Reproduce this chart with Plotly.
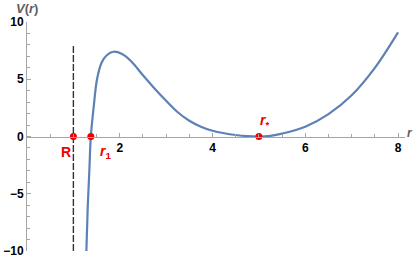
import plotly.graph_objects as go

# curve samples
r_vals = [1.28, 1.31, 1.345, 1.376, 1.44, 1.51, 1.61, 1.72, 1.86, 2.05, 2.25, 2.5, 2.75,
          3.0, 3.25, 3.5, 3.75, 4.0, 4.25, 4.5, 4.75, 5.0, 5.25, 5.5, 6.0, 6.5, 7.0, 7.5, 8.0]
v_vals = [-10.0, -6.1, -2.9, 0.0, 2.66, 5.0, 6.46, 7.1, 7.4, 7.2, 6.55, 5.35, 4.2,
          3.12, 2.12, 1.38, 0.86, 0.5, 0.28, 0.13, 0.035, 0.0, 0.06, 0.25, 0.85, 1.95, 3.6, 6.0, 9.1]

# marked points
pt_names = ["R", "r1", "r*"]
pt_r = [1.0, 1.376, 5.0]
pt_v = [0.0, 0.0, 0.0]

# dashed wall at R
wall_r = [1.0, 1.0]
wall_v = [-10.0, 8.0]

x_ticks = [2, 4, 6, 8]
y_ticks = [-10, -5, 0, 5, 10]
y_tick_text = ["\u221210", "\u22125", "0", "5", "10"]

curve_color = "rgb(94,129,181)"
axis_color = "#a6a6a6"
red = "#ee0000"

fig = go.Figure()
fig.add_trace(go.Scatter(x=wall_r, y=wall_v, mode="lines",
                         line=dict(color="#333333", width=1.4, dash="7px,2px"),
                         hoverinfo="skip"))
fig.add_trace(go.Scatter(x=r_vals, y=v_vals, mode="lines",
                         line=dict(color=curve_color, width=2.2, shape="spline", smoothing=1.0),
                         hoverinfo="skip"))
fig.add_trace(go.Scatter(x=pt_r, y=pt_v, mode="markers",
                         marker=dict(color=red, size=7, line=dict(width=0)), cliponaxis=False,
                         hoverinfo="skip"))

tick_font = dict(family="Liberation Sans", size=12, color="black", weight="bold")

fig.update_layout(
    width=415, height=261,
    margin=dict(l=27, r=10, t=22, b=10),
    paper_bgcolor="white", plot_bgcolor="white",
    showlegend=False,
    xaxis=dict(range=[0, 8.15], anchor="free", position=0.5, automargin=False,
               showline=True, linecolor=axis_color, linewidth=1,
               showgrid=False, zeroline=False,
               tickvals=x_ticks, ticks="inside", ticklen=4, tickcolor=axis_color,
               tickfont=tick_font,
               minor=dict(dtick=0.5, tick0=0, ticks="inside", ticklen=2.5, tickcolor=axis_color)),
    yaxis=dict(range=[-10, 10], automargin=False,
               showline=True, linecolor=axis_color, linewidth=1,
               showgrid=False, zeroline=False,
               tickvals=y_ticks, ticktext=y_tick_text,
               ticks="inside", ticklen=4, tickcolor=axis_color,
               tickfont=tick_font,
               minor=dict(dtick=1, tick0=0, ticks="inside", ticklen=2.5, tickcolor=axis_color)),
)

lab_font = dict(family="Liberation Sans", size=14, color=red, weight="bold")
fig.add_annotation(x=0.85, y=-1.35, text="R", showarrow=False, font=lab_font,
                   xanchor="center", yanchor="middle")
fig.add_annotation(x=1.7, y=-1.35, text="<i>r</i><sub>1</sub>", showarrow=False, font=lab_font,
                   xanchor="center", yanchor="middle")
fig.add_annotation(x=5.13, y=1.35, text="<i>r</i><sub>*</sub>", showarrow=False, font=lab_font,
                   xanchor="center", yanchor="middle")

fig.add_annotation(xref="paper", yref="paper", x=0.0, y=1.057, text="<i>V</i>(<i>r</i>)",
                   showarrow=False, xanchor="center", yanchor="middle",
                   font=dict(family="Liberation Sans", size=13, color="#606060", weight="bold"))
fig.add_annotation(xref="paper", yref="paper", x=1.012, y=0.515, text="<i>r</i>",
                   showarrow=False, xanchor="center", yanchor="middle",
                   font=dict(family="Liberation Sans", size=12, color="#606060", weight="bold"))

fig.write_html("out.html", config={"displayModeBar": False},
               post_script="document.body.style.margin='0';document.body.style.padding='0';")
